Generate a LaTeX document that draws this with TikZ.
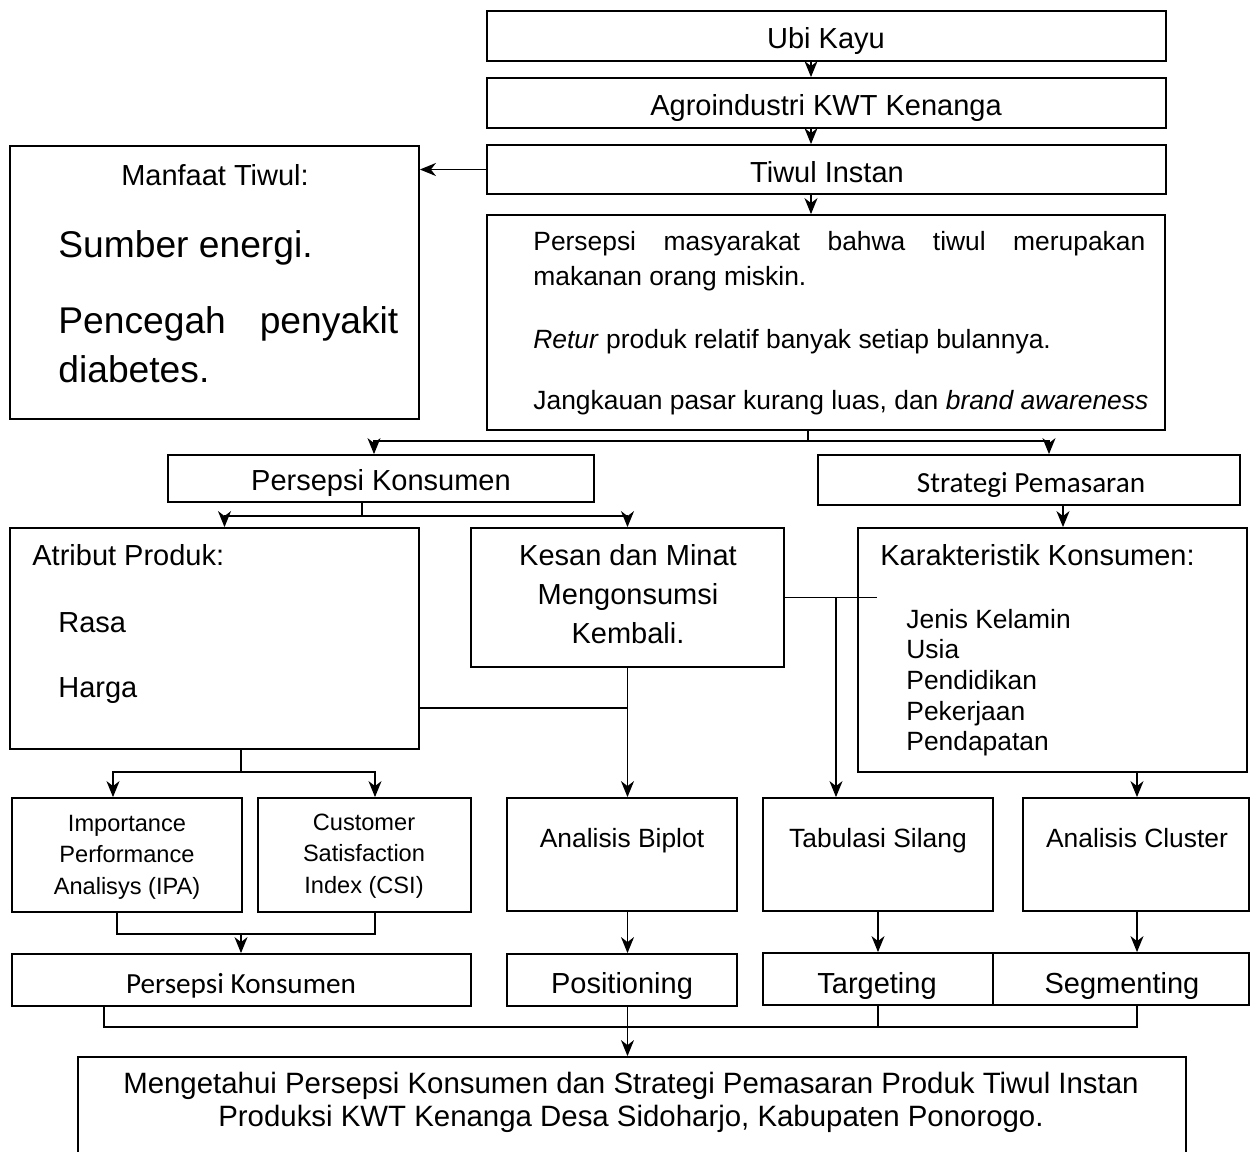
\documentclass[tikz,border=0pt]{standalone}
\usepackage{fontspec}
\setmainfont{Liberation Sans}
\newfontfamily\carlitofont{Carlito}
\usetikzlibrary{arrows.meta,calc,positioning,fit}

\tikzset{
  box/.style={draw,line width=0.9pt,inner sep=0pt},
  conn/.style={line width=0.75pt},
  arr/.style={conn,-{Stealth[length=8pt,width=6.5pt,inset=2.5pt]}},
  txt/.style={inner sep=0pt},
  fbig/.style={font=\fontsize{14.5}{17}\selectfont},
  fmid/.style={font=\fontsize{13.2}{15.5}\selectfont},
  fsmall/.style={font=\fontsize{11.8}{15.75}\selectfont},
  fhuge/.style={font=\fontsize{18.6}{25}\selectfont},
  fcal/.style={font=\carlitofont\fontsize{14.6}{17}\selectfont},
}

\begin{document}
\begin{tikzpicture}[x=0.5pt,y=-0.5pt]
\useasboundingbox (0,0) rectangle (1250,1152);

% top chain
\node[box,fit={(487,11)(1166,61)}] (ubi) {};
\node[txt,fbig,anchor=base] at (826,48) {Ubi Kayu};
\node[box,fit={(487,78)(1166,128)}] (agro) {};
\node[txt,fbig,anchor=base] at (826,115) {Agroindustri KWT Kenanga};
\node[box,fit={(487,145)(1166,194)}] (tiwul) {};
\node[txt,fbig,anchor=base] at (827,182) {Tiwul Instan};

% manfaat
\node[box,fit={(10,146)(419,419)}] (manfaat) {};
\node[txt,fbig,anchor=base] (mtitle) at (215,185) {Manfaat Tiwul:};
\node[txt,fhuge,anchor=base west] (m1) at (58,257) {Sumber energi.};
\node[txt,fhuge,anchor=base west] (m2) at (58,333) {\makebox[170pt][s]{Pencegah penyakit}};
\node[txt,fhuge,anchor=base west] (m3) at (58,382) {diabetes.};

% masalah
\node[box,fit={(487,215)(1165,430)}] (masalah) {};
\node[txt,fmid,anchor=base west] (p1) at (533,250) {\makebox[306pt][s]{Persepsi masyarakat bahwa tiwul merupakan}};
\node[txt,fmid,anchor=base west] (p2) at (533,285) {makanan orang miskin.};
\node[txt,fmid,anchor=base west] (p3) at (533,348) {\textit{Retur} produk relatif banyak setiap bulannya.};
\node[txt,fmid,anchor=base west] (p4) at (533,409) {Jangkauan pasar kurang luas, dan \textit{brand awareness}};

% second level
\node[box,fit={(168,455)(594,502)}] (pk) {};
\node[txt,fbig,anchor=base] at (381,490) {Persepsi Konsumen};
\node[box,fit={(818,455)(1240,505)}] (strategi) {};
\node[txt,fcal,anchor=base] at (1031,492) {Strategi Pemasaran};

% third level
\node[box,fit={(10,528)(419,749)}] (atribut) {};
\node[txt,fbig,anchor=base west] (a1) at (32,565) {Atribut Produk:};
\node[txt,fbig,anchor=base west] (a2) at (58,632) {Rasa};
\node[txt,fbig,anchor=base west] (a3) at (58,697) {Harga};

\node[box,fit={(471,528)(784,667)}] (kesan) {};
\node[txt,align=center,font=\fontsize{14.5}{19.5}\selectfont] at (628,594) {Kesan dan Minat\\Mengonsumsi\\Kembali.};

\node[box,fit={(858,528)(1247,772)}] (karak) {};
\node[txt,fbig,anchor=base west] (k0) at (880,565) {Karakteristik Konsumen:};
\node[txt,fmid,anchor=base west] (k1) at (906,628) {Jenis Kelamin};
\node[txt,fmid,anchor=base west] (k2) at (906,658) {Usia};
\node[txt,fmid,anchor=base west] (k3) at (906,689) {Pendidikan};
\node[txt,fmid,anchor=base west] (k4) at (906,720) {Pekerjaan};
\node[txt,fmid,anchor=base west] (k5) at (906,750) {Pendapatan};

% analysis row
\node[box,fit={(12,798)(242,912)}] (ipa) {};
\node[txt,fsmall,align=center] at (127,857) {Importance\\Performance\\Analisys (IPA)};
\node[box,fit={(258,798)(471,912)}] (csi) {};
\node[txt,fsmall,align=center] at (364,856) {Customer\\Satisfaction\\Index (CSI)};
\node[box,fit={(507,798)(737,911)}] (biplot) {};
\node[txt,fmid,anchor=base] at (622,847) {Analisis Biplot};
\node[box,fit={(763,798)(993,911)}] (tabulasi) {};
\node[txt,fmid,anchor=base] at (878,847) {Tabulasi Silang};
\node[box,fit={(1023,798)(1249,911)}] (cluster) {};
\node[txt,fmid,anchor=base] at (1137,847) {Analisis Cluster};

% STP row
\node[box,fit={(12,954)(471,1006)}] (pk2) {};
\node[txt,fcal,anchor=base] at (241,993) {Persepsi Konsumen};
\node[box,fit={(507,954)(737,1006)}] (positioning) {};
\node[txt,fbig,anchor=base] at (622,993) {Positioning};
\node[box,fit={(763,953)(993,1005)}] (targeting) {};
\node[txt,fbig,anchor=base] at (877,993) {Targeting};
\node[box,fit={(993,953)(1249,1005)}] (segmenting) {};
\node[txt,fbig,anchor=base] at (1122,993) {Segmenting};

% goal
\node[box,fit={(78,1057)(1186,1160)}] (tujuan) {};
\node[txt,align=center,font=\fontsize{14.7}{16.5}\selectfont] at (631,1102) {Mengetahui Persepsi Konsumen dan Strategi Pemasaran Produk Tiwul Instan\\Produksi KWT Kenanga Desa Sidoharjo, Kabupaten Ponorogo.};

% connectors
\coordinate (c1) at (811,0);
\coordinate (c2) at (1063,0);
\coordinate (c3) at (1137,0);
\coordinate (t1) at (836,0);
\draw[arr] (ubi.south -| c1) -- (agro.north -| c1);
\draw[arr] (agro.south -| c1) -- (tiwul.north -| c1);
\draw[arr] (tiwul.south -| c1) -- (masalah.north -| c1);
\draw[arr] (tiwul.west) -- (tiwul.west -| manfaat.east);

\coordinate (s1) at (808,441);
\draw[conn] (masalah.south -| s1) -- (s1);
\draw[arr] (s1) -| ($(pk.north)+(-7,0)$);
\draw[arr] (s1) -| ($(strategi.north)+(20,0)$);

\coordinate (s2) at (362,516);
\draw[conn] (pk.south -| s2) -- (s2);
\draw[arr] (s2) -| ($(atribut.north)+(10,0)$);
\draw[arr] (s2) -| (kesan.north);
\draw[arr] (strategi.south -| c2) -- (karak.north -| c2);

\draw[conn] (kesan.east) -- ($(kesan.east)+(92,0)$);
\draw[arr] (kesan.east -| t1) -- (tabulasi.north -| t1);
\coordinate (j1) at (628,708);
\draw[conn] (atribut.east |- j1) -- (j1);
\draw[arr] (kesan.south) -- (kesan.south |- biplot.north);

\coordinate (s3) at (241,772);
\draw[conn] (atribut.south -| s3) -- (s3);
\draw[arr] (s3) -| ($(ipa.north)+(-14,0)$);
\draw[arr] (s3) -| ($(csi.north)+(10.5,0)$);
\draw[arr] (karak.south -| c3) -- (cluster.north -| c3);

\coordinate (m1) at (241,933);
\draw[conn] ($(ipa.south)+(-10,0)$) |- ($(csi.south)+(10.5,21)$) -- ($(csi.south)+(10.5,0)$);
\draw[arr] (m1) -- (pk2.north -| m1);
\draw[arr] (biplot.south -| kesan.south) -- (positioning.north -| kesan.south);
\draw[arr] (tabulasi.south) -- (tabulasi.south |- targeting.north);
\draw[arr] (cluster.south -| c3) -- (segmenting.north -| c3);

\coordinate (b1) at (104,1027);
\coordinate (b2) at (1137,1027);
\draw[conn] (pk2.south -| b1) -- (b1) -- (b2) -- (segmenting.south -| b2);
\draw[conn] (targeting.south) -- (targeting.south |- b1);
\draw[arr] (positioning.south -| kesan.south) -- (tujuan.north -| kesan.south);
\end{tikzpicture}
\end{document}
